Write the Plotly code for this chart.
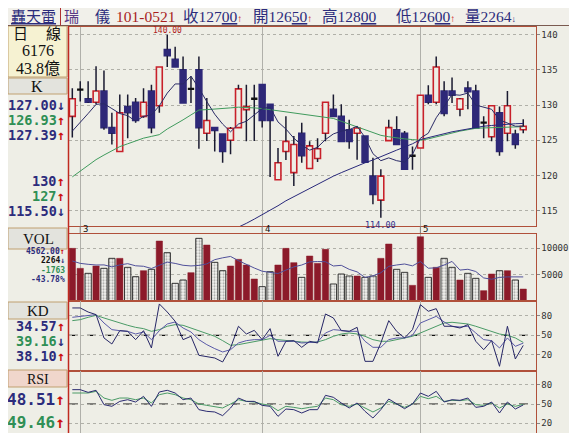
import plotly.graph_objects as go

W, H = 577, 433
BG = "#eeeee6"
NAVY = "#2c2c7c"
GREEN = "#2f8f55"
RED = "#c8202a"
BODY_BLUE = "#2e2878"
MAROON = "#8c1a2a"
FRAME = "#b0503a"
WICK = "#1a1a30"

# ---------------- data ----------------
month_idx = [1, 24, 44]
month_labels = ["3", "4", "5"]

opens = [128.4, 132.2, 130.9, 130.4, 132.0, 126.8, 123.4, 129.8, 130.4, 128.4,
         132.0, 129.9, 137.9, 136.5, 135.0, 132.3, 135.0, 126.0, 126.8, 125.9,
         125.0, 126.8, 129.35, 130.9, 132.9, 130.1, 119.4, 123.4, 120.4, 126.0,
         121.0, 122.4, 126.0, 129.4, 128.4, 126.5, 126.0, 125.6, 119.9, 116.5,
         124.95, 126.5, 126.0, 122.8, 123.9, 131.4, 130.4, 132.0, 132.0, 129.4,
         132.4, 132.0, 127.5, 125.5, 128.9, 126.0, 125.9, 126.5]
highs = [132.4, 133.4, 133.4, 135.5, 134.9, 128.9, 131.5, 131.5, 131.0, 132.4,
         132.9, 135.4, 140.0, 138.3, 136.9, 134.1, 136.9, 131.0, 126.8, 125.9,
         126.9, 132.9, 132.9, 132.9, 132.9, 130.1, 123.9, 128.4, 125.6, 127.5,
         124.85, 125.3, 130.4, 131.5, 130.1, 127.9, 127.0, 125.6, 122.5, 120.9,
         127.9, 128.4, 126.3, 124.1, 131.4, 132.8, 136.9, 133.4, 133.9, 131.0,
         133.4, 132.9, 128.4, 129.9, 129.8, 132.0, 126.5, 128.0]
lows = [125.4, 130.5, 130.3, 130.1, 126.5, 124.4, 123.4, 125.3, 127.5, 128.2,
        126.0, 128.9, 135.4, 135.4, 130.3, 130.3, 123.8, 124.9, 123.4, 121.8,
        123.0, 126.8, 124.85, 124.9, 126.8, 119.8, 119.4, 122.2, 118.5, 121.8,
        121.0, 121.9, 124.85, 128.4, 124.85, 123.8, 122.25, 121.9, 115.9, 114.0,
        124.95, 124.4, 120.9, 120.8, 123.9, 130.1, 130.1, 128.4, 130.3, 128.4,
        129.4, 126.75, 125.3, 124.85, 122.8, 124.85, 123.8, 126.0]
closes = [130.9, 132.2, 130.4, 132.0, 126.8, 126.0, 128.9, 128.9, 127.8, 130.4,
          126.8, 135.4, 137.0, 135.4, 130.3, 132.3, 126.8, 127.8, 126.4, 123.4,
          126.7, 132.3, 129.8, 130.9, 127.8, 127.8, 121.8, 124.85, 124.4, 122.8,
          124.2, 123.8, 130.4, 128.4, 124.85, 124.85, 126.75, 121.9, 117.3, 119.9,
          126.8, 124.4, 120.9, 122.8, 131.4, 130.4, 135.4, 128.8, 131.4, 130.9,
          131.9, 126.75, 127.5, 129.9, 123.4, 129.9, 124.4, 127.0]

ma_short = [126.3, 127.5, 128.8, 130.1, 130.2, 129.5, 128.8, 128.5, 127.7, 128.4,
            128.6, 129.9, 131.7, 133.0, 133.0, 134.1, 132.4, 130.5, 128.7, 127.3,
            126.2, 127.3, 127.7, 128.6, 129.5, 129.7, 127.6, 126.6, 125.3, 124.3,
            123.6, 124.0, 125.1, 125.9, 126.3, 126.5, 127.0, 125.4, 123.1, 122.1,
            122.5, 122.1, 121.9, 123.0, 125.3, 126.0, 128.2, 129.8, 131.5, 131.4,
            131.7, 130.0, 129.7, 129.4, 127.9, 127.5, 127.0, 127.0]
ma_mid = [119.8, 120.6, 121.5, 122.25, 122.9, 123.5, 124.1, 124.5, 124.9, 125.3,
          125.55, 125.8, 126.6, 127.2, 127.9, 128.6, 129.3, 129.35, 129.4, 129.5,
          129.6, 129.7, 129.7, 129.6, 129.5, 129.35, 129.2, 129.05, 128.9, 128.75,
          128.6, 128.45, 128.3, 128.1, 127.7, 127.3, 126.9, 126.5, 126.1, 125.7,
          125.5, 125.3, 125.2, 125.1, 125.0, 125.2, 125.5, 125.8, 126.0, 126.3,
          126.5, 126.7, 126.75, 126.8, 126.8, 126.85, 126.9, 126.93]
ma_long = [None] * 19 + [111.6, 112.1, 112.7, 113.2, 113.8, 114.4, 115.0, 115.7, 116.4, 117.0,
                         117.6, 118.2, 118.8, 119.4, 119.9, 120.4, 120.9, 121.3, 121.8, 122.2,
                         122.7, 123.2, 123.6, 124.05, 124.5, 125.1, 125.4, 125.7, 126.0, 126.2,
                         126.4, 126.6, 126.85, 127.0, 127.1, 127.2, 127.3, 127.35, 127.39]

volume = [9975, 6187, 5240, 6629, 6187, 8081, 8081, 6376, 4609, 5745,
          5998, 11364, 9154, 3346, 3977, 5366, 11869, 10606, 7324, 5745,
          6629, 7892, 6818, 4167, 2714, 5555, 6818, 9975, 7260, 4483,
          8523, 7134, 9786, 3220, 5114, 4735, 4735, 4483, 4735, 8081,
          10796, 5998, 5430, 2968, 12184, 4483, 6376, 8081, 6376, 3977,
          5240, 4293, 1957, 5114, 5745, 5745, 3977, 2264]
vol_ma = [7580, 7130, 6950, 6820, 6840, 6470, 6840, 7070, 6670, 6580,
          6160, 6820, 7370, 7120, 6770, 6640, 6740, 7030, 7830, 8180,
          8440, 7640, 6880, 6250, 5640, 5430, 5210, 5850, 6460, 6820,
          7410, 7480, 7440, 6630, 6760, 6000, 5520, 4460, 4760, 5350,
          6570, 6820, 7010, 6660, 7480, 6210, 6290, 6820, 7500, 5860,
          6010, 5590, 4370, 4120, 4470, 4570, 4510, 4562]

kd_fast = [91.8, 91.8, 85.6, 81.6, 46.0, 36.8, 57.1, 56.1, 43.4, 57.1,
           30.7, 97.9, 85.6, 71.4, 43.4, 48.5, 19.5, 18.0, 15.4, 9.3,
           30.7, 63.8, 52.0, 57.6, 43.4, 60.2, 18.0, 40.9, 41.9, 31.7,
           40.9, 38.3, 82.6, 76.5, 57.1, 56.1, 62.2, 10.3, 10.3, 38.3,
           72.4, 56.1, 46.0, 58.7, 96.8, 86.7, 90.7, 63.8, 63.8, 61.2,
           66.3, 40.9, 28.1, 41.9, 2.7, 63.8, 13.9, 34.57]
kd_k = [77.5, 79.0, 80.5, 81.6, 68.8, 58.7, 57.1, 56.1, 52.0, 55.1,
        43.4, 57.1, 67.3, 70.4, 61.2, 55.1, 43.4, 35.8, 29.7, 24.6,
        28.1, 38.3, 41.9, 43.4, 43.4, 50.0, 40.9, 40.9, 40.9, 38.3,
        39.3, 39.8, 53.6, 58.7, 57.6, 56.1, 56.1, 40.9, 31.7, 31.7,
        43.4, 46.0, 46.0, 50.0, 68.8, 73.9, 79.0, 70.4, 63.8, 62.7,
        63.8, 53.6, 43.4, 41.9, 30.7, 46.0, 33.2, 38.10]
kd_d = [72.4, 73.9, 77.5, 80.5, 76.5, 72.4, 68.8, 65.3, 62.2, 60.2,
        56.1, 58.7, 63.8, 66.3, 65.3, 61.2, 57.1, 53.6, 48.5, 41.9,
        34.8, 35.8, 37.8, 39.8, 42.4, 44.9, 43.4, 41.9, 40.9, 39.8,
        39.3, 39.8, 43.4, 48.5, 52.0, 53.6, 52.0, 48.5, 43.4, 40.9,
        40.9, 43.4, 46.0, 48.5, 53.6, 58.7, 63.8, 68.8, 69.9, 68.8,
        67.3, 63.8, 59.7, 56.1, 52.0, 50.0, 46.0, 39.16]

rsi_fast = [72.3, 72.3, 68.1, 71.3, 49.0, 46.4, 54.1, 56.7, 53.1, 61.9,
            46.4, 68.7, 71.3, 67.1, 56.7, 59.3, 41.2, 38.6, 37.6, 31.9,
            43.8, 59.3, 54.1, 54.1, 47.9, 46.4, 30.8, 42.2, 41.2, 36.0,
            41.2, 41.2, 63.5, 60.4, 51.6, 43.8, 51.6, 38.6, 28.2, 41.2,
            57.8, 50.0, 42.7, 50.0, 67.1, 61.9, 69.7, 53.1, 56.7, 55.7,
            59.3, 44.8, 46.4, 53.1, 36.0, 53.1, 42.2, 48.51]
rsi_slow = [67.1, 67.1, 67.1, 69.7, 59.3, 55.7, 59.3, 59.3, 56.7, 59.3,
            51.6, 64.5, 67.1, 64.5, 59.3, 56.7, 50.0, 47.9, 46.4, 43.8,
            50.0, 56.7, 54.1, 53.1, 50.0, 47.9, 39.6, 46.4, 44.8, 42.7,
            44.8, 46.4, 59.3, 56.7, 48.9, 46.4, 50.0, 43.8, 37.6, 43.8,
            54.1, 50.0, 44.8, 50.0, 61.9, 58.3, 61.9, 54.1, 55.7, 55.2,
            56.7, 49.0, 47.9, 51.6, 43.8, 50.0, 46.4, 49.46]

price_ticks = [115, 120, 125, 130, 135, 140]
vol_ticks = [5000, 10000]
osc_ticks = [20, 50, 80]

idx = list(range(len(closes)))


def px(x):
    return x / W


def py(y):
    return 1 - y / H


XD = [px(61), px(527.5)]
XR = [-0.42, 58.55]

fig = go.Figure()

# ---------- candle bodies ----------
bx, bb, bh, bc, bl = [], [], [], [], []
for i, o, c in zip(idx, opens, closes):
    if c == o:
        continue
    bx.append(i)
    bb.append(min(o, c))
    bh.append(abs(c - o))
    bc.append(BG if c > o else BODY_BLUE)
    bl.append(RED if c > o else BODY_BLUE)
fig.add_trace(go.Bar(x=bx, y=bh, base=bb, width=0.74,
                     marker=dict(color=bc, line=dict(color=bl, width=1.6)),
                     xaxis="x", yaxis="y"))

# ---------- wicks ----------
wx, wy = [], []
for i, o, h, l, c in zip(idx, opens, highs, lows, closes):
    top, bot = max(o, c), min(o, c)
    if h > top:
        wx += [i, i, None]
        wy += [h, top, None]
    if l < bot:
        wx += [i, i, None]
        wy += [bot, l, None]
fig.add_trace(go.Scatter(x=wx, y=wy, mode="lines", line=dict(color=WICK, width=1.5),
                         xaxis="x", yaxis="y"))

# ---------- doji crosses ----------
dx, dy = [], []
for i, o, c in zip(idx, opens, closes):
    if c == o:
        dx += [i - 0.4, i + 0.4, None]
        dy += [o, o, None]
fig.add_trace(go.Scatter(x=dx, y=dy, mode="lines", line=dict(color="#111111", width=2.4),
                         xaxis="x", yaxis="y"))

# ---------- moving averages ----------
fig.add_trace(go.Scatter(x=idx, y=ma_mid, mode="lines", line=dict(color="#3f9a5c", width=1),
                         xaxis="x", yaxis="y"))
fig.add_trace(go.Scatter(x=idx, y=ma_long, mode="lines", line=dict(color="#28287a", width=1),
                         xaxis="x", yaxis="y"))
fig.add_trace(go.Scatter(x=idx, y=ma_short, mode="lines", line=dict(color="#2a2a66", width=1),
                         xaxis="x", yaxis="y"))

# ---------- volume ----------
ux = [i for i, o, c in zip(idx, opens, closes) if c >= o]
uy = [v for v, o, c in zip(volume, opens, closes) if c >= o]
dnx = [i for i, o, c in zip(idx, opens, closes) if c < o]
dny = [v for v, o, c in zip(volume, opens, closes) if c < o]
fig.add_trace(go.Bar(x=ux, y=uy, width=0.8,
                     marker=dict(color=MAROON, line=dict(color=MAROON, width=0.5)),
                     xaxis="x2", yaxis="y2"))
fig.add_trace(go.Bar(x=dnx, y=dny, width=0.8,
                     marker=dict(color="#f4f4f0",
                                 pattern=dict(shape=".", fgcolor="#555555", bgcolor="#f4f4f0",
                                              size=3, solidity=0.4),
                                 line=dict(color="#222222", width=0.9)),
                     xaxis="x2", yaxis="y2"))
fig.add_trace(go.Scatter(x=idx, y=vol_ma, mode="lines", line=dict(color="#50509a", width=1),
                         xaxis="x2", yaxis="y2"))

# ---------- KD ----------
fig.add_trace(go.Scatter(x=idx, y=kd_d, mode="lines", line=dict(color="#4a9a66", width=1),
                         xaxis="x3", yaxis="y3"))
fig.add_trace(go.Scatter(x=idx, y=kd_k, mode="lines", line=dict(color="#5a5aa8", width=1),
                         xaxis="x3", yaxis="y3"))
fig.add_trace(go.Scatter(x=idx, y=kd_fast, mode="lines", line=dict(color="#262666", width=1),
                         xaxis="x3", yaxis="y3"))

# ---------- RSI ----------
fig.add_trace(go.Scatter(x=idx, y=rsi_slow, mode="lines", line=dict(color="#4a9a66", width=1),
                         xaxis="x4", yaxis="y4"))
fig.add_trace(go.Scatter(x=idx, y=rsi_fast, mode="lines", line=dict(color="#2a2a70", width=1),
                         xaxis="x4", yaxis="y4"))


def xax(anchor):
    return dict(domain=XD, range=XR, anchor=anchor, showticklabels=False,
                tickvals=month_idx, ticks="", showgrid=True, gridcolor="#b0b0aa",
                gridwidth=1, zeroline=False, showline=True, linecolor=FRAME,
                linewidth=1, mirror=True, fixedrange=True)


def yax(anchor, top, bot, rng, tv):
    return dict(domain=[py(bot), py(top)], range=rng, anchor=anchor, side="right",
                tickvals=tv, ticktext=[str(v) for v in tv], showgrid=True,
                griddash="dot", gridcolor="#b0b0a8", zeroline=False, showline=True,
                linecolor=FRAME, linewidth=1, mirror=True, ticks="outside", ticklen=3,
                tickcolor="#888888",
                tickfont=dict(family="DejaVu Sans Mono", size=9, color="#333333"),
                fixedrange=True)


shapes = []
ann = []

# dashed 50 lines
for xa, ya in (("x3", "y3"), ("x4", "y4")):
    shapes.append(dict(type="line", xref=xa + " domain", yref=ya, x0=0, x1=1, y0=50, y1=50,
                       line=dict(color="#111111", width=1.2, dash="dash"), layer="below"))

# month tick marks under price panel + labels
for m, lab in zip(month_idx, month_labels):
    shapes.append(dict(type="line", xref="x", yref="paper", x0=m, x1=m, y0=py(218), y1=py(225),
                       line=dict(color="#777777", width=1)))
    ann.append(dict(xref="x", yref="paper", x=m, y=py(221.5), text=lab, showarrow=False,
                    xanchor="left", yanchor="middle", xshift=1,
                    font=dict(family="DejaVu Sans Mono", size=9, color="#111111")))

# header
shapes.append(dict(type="rect", xref="paper", yref="paper", x0=0, x1=1, y0=py(17.5), y1=1,
                   fillcolor="#f1f0ea", line=dict(width=0), layer="below"))
shapes.append(dict(type="line", xref="paper", yref="paper", x0=0, x1=1, y0=py(17.5), y1=py(17.5),
                   line=dict(color="#7a5a50", width=1)))
shapes.append(dict(type="line", xref="paper", yref="paper", x0=px(52.5), x1=px(52.5), y0=py(0), y1=py(17.5),
                   line=dict(color="#b03030", width=1)))

HF = "Liberation Serif, Noto Sans CJK TC"
UP = "<span style='color:#cc1010;font-size:10px'>↑</span>"


def head(x, text, color=NAVY, size=16):
    ann.append(dict(xref="paper", yref="paper", x=px(x), y=py(8.5), text=text, showarrow=False,
                    xanchor="left", yanchor="middle",
                    font=dict(family=HF, size=size, color=color)))


head(1, "<u>轟天雷</u>", NAVY, 15)
head(54, "瑞", "#5a3a86", 15)
head(85, "儀", NAVY, 15)
head(106, "101-0521", "#a81e1e", 15.5)
head(173, "收127<u>00</u>" + UP, NAVY, 15.5)
head(243, "開126<u>50</u>" + UP, NAVY, 15.5)
head(312, "高128<u>00</u>", NAVY, 15.5)
head(386, "低126<u>00</u>" + UP, NAVY, 15.5)
head(455, "量2264<span style='font-size:9px'>↓</span>", NAVY, 15.5)

# left panel cells
cells = [(18, 69, "#f6f2d2"), (70, 86, "#e3e3dd"), (220, 241, "#e3e3dd"),
         (294, 311, "#e3e3dd"), (362, 379, "#f0d6cc")]
for t, b, col in cells:
    shapes.append(dict(type="rect", xref="paper", yref="paper", x0=0, x1=px(59), y0=py(b), y1=py(t),
                       fillcolor=col, line=dict(color="#c0a070", width=1), layer="below"))
shapes.append(dict(type="line", xref="paper", yref="paper", x0=px(60.5), x1=px(60.5), y0=0, y1=py(18),
                   line=dict(color="#c02a20", width=1.5)))


def cell_text(x, y, text, size=16, color="#111111", family=HF):
    ann.append(dict(xref="paper", yref="paper", x=px(x), y=py(y), text=text, showarrow=False,
                    xanchor="center", yanchor="middle",
                    font=dict(family=family, size=size, color=color)))


cell_text(12, 26, "日", 15)
cell_text(46, 26, "線", 15)
cell_text(30, 42.5, "6176", 16)
cell_text(30, 60.5, "43.8億", 16)
cell_text(29, 78, "K", 16)
cell_text(30, 231, "VOL", 15)
cell_text(30, 303, "KD", 15)
cell_text(30, 371, "RSI", 14)

MF = "DejaVu Sans Mono"
ARU = "<span style='color:#cc1010'>↑</span>"
ARD = "<span style='color:#2c2c7c'>↓</span>"


def val(y, text, color, size):
    ann.append(dict(xref="paper", yref="paper", x=px(59), y=py(y), text="<b>" + text + "</b>",
                    showarrow=False, xanchor="right", yanchor="middle",
                    font=dict(family=MF, size=size, color=color)))


val(97, "127.00" + ARD, NAVY, 13.5)
val(112, "126.93" + ARU, GREEN, 13.5)
val(127, "127.39" + ARU, NAVY, 13.5)
val(173, "130" + ARU, NAVY, 13.5)
val(188, "127" + ARU, GREEN, 13.5)
val(203, "115.50" + ARD, NAVY, 13.5)
val(243, "4562.00" + ARU, NAVY, 8)
val(252, "2264" + ARD, "#111111", 8)
val(262, "-1763", GREEN, 8)
val(271.5, "-43.78%", NAVY, 8)
val(318, "34.57" + ARU, NAVY, 13.5)
val(333, "39.16" + ARD, GREEN, 13.5)
val(348, "38.10" + ARU, NAVY, 13.5)
val(391, "48.51" + ARU, NAVY, 16)
val(414, "49.46" + ARU, GREEN, 16)

# max / min price labels
imax = highs.index(max(highs))
imin = lows.index(min(lows))
ann.append(dict(xref="x", yref="y", x=imax, y=highs[imax], text="%.2f" % highs[imax], showarrow=False,
                yanchor="bottom", yshift=-2, font=dict(family=MF, size=8, color="#b02020")))
ann.append(dict(xref="x", yref="y", x=imin, y=lows[imin], text="%.2f" % lows[imin], showarrow=False,
                yanchor="top", yshift=0, font=dict(family=MF, size=8.5, color="#30308a")))

fig.update_layout(
    width=W, height=H, margin=dict(l=0, r=0, t=0, b=0),
    paper_bgcolor=BG, plot_bgcolor=BG, showlegend=False, barmode="overlay",
    xaxis=xax("y"), xaxis2=xax("y2"), xaxis3=xax("y3"), xaxis4=xax("y4"),
    yaxis=yax("x", 18.5, 218.3, [112.78, 141.16], price_ticks),
    yaxis2=yax("x2", 225.7, 293, [0, 12750], vol_ticks),
    yaxis3=yax("x3", 293, 362.5, [-3.7, 102.4], osc_ticks),
    yaxis4=yax("x4", 362.5, 431.7, [-5.5, 102.1], osc_ticks),
    shapes=shapes, annotations=ann,
)

fig.write_html("out.html")
